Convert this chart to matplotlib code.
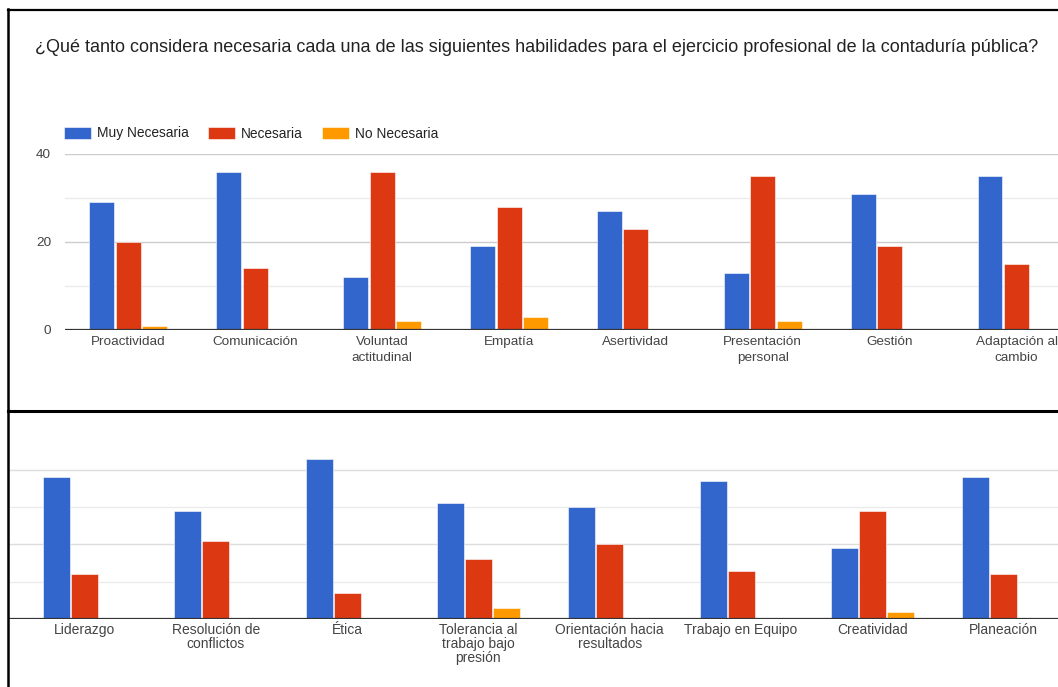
import matplotlib
matplotlib.use("Agg")
import matplotlib.pyplot as plt
import numpy as np

plt.rcParams['font.family'] = ['Liberation Sans', 'DejaVu Sans']

# top chart
cats_top = ["Proactividad", "Comunicación", "Voluntad\nactitudinal", "Empatía",
            "Asertividad", "Presentación\npersonal", "Gestión", "Adaptación al\ncambio"]
muy_top = [29, 36, 12, 19, 27, 13, 31, 35]
nec_top = [20, 14, 36, 28, 23, 35, 19, 15]
no_top = [1, 0, 2, 3, 0, 2, 0, 0]

# bottom chart
cats_bot = ["Liderazgo", "Resolución de\nconflictos", "Ética", "Tolerancia al\ntrabajo bajo\npresión",
            "Orientación hacia\nresultados", "Trabajo en Equipo", "Creatividad", "Planeación"]
muy_bot = [38, 29, 43, 31, 30, 37, 19, 38]
nec_bot = [12, 21, 7, 16, 20, 13, 29, 12]
no_bot = [0, 0, 0, 3, 0, 0, 2, 0]

series_names = ["Muy Necesaria", "Necesaria", "No Necesaria"]
colors = ["#3366CC", "#DC3912", "#FF9900"]
title = ("¿Qué tanto considera necesaria cada una de las siguientes habilidades "
         "para el ejercicio profesional de la contaduría pública?")

W, H = 1058, 687
fig = plt.figure(figsize=(W / 100, H / 100), dpi=100)


def px_axes(x0, y0, x1, y1):
    # pixel box (top-left origin) -> figure axes
    return fig.add_axes([x0 / W, 1 - y1 / H, (x1 - x0) / W, (y1 - y0) / H])


def draw_bars(ax, cats, vals, width, off):
    x = np.arange(len(cats))
    bars = []
    for i, (v, c, name) in enumerate(zip(vals, colors, series_names)):
        b = ax.bar(x + (i - 1) * off, v, width, color=c, label=name,
                   edgecolor='white', linewidth=0.4, zorder=3)
        bars.append(b)
    ax.set_xticks(x)
    ax.set_xticklabels(cats)
    for s in ax.spines.values():
        s.set_visible(False)
    ax.axhline(0, color='#333333', linewidth=1.6, zorder=4)
    ax.tick_params(axis='both', length=0, colors='#444444')
    return bars


# ---- top panel ----
ax1 = px_axes(65, 154, 1058, 330)
bars = draw_bars(ax1, cats_top, [muy_top, nec_top, no_top], 0.197, 0.209)
ax1.set_xlim(-0.5, 7.327)
ax1.set_ylim(0, 40)
ax1.set_yticks([0, 20, 40])
ax1.set_yticks([10, 30], minor=True)
ax1.tick_params(axis='y', which='both', length=0, pad=10, labelsize=9.7)
ax1.tick_params(axis='x', pad=4, labelsize=9.7)
for t in ax1.get_xticklabels():
    t.set_linespacing(1.5)
ax1.grid(axis='y', which='major', color='#cccccc', linewidth=1.0, zorder=0)
ax1.grid(axis='y', which='minor', color='#ebebeb', linewidth=1.0, zorder=0)

fig.text(35 / W, 1 - 48 / H, title, fontsize=13, color='#222222', va='center', ha='left')

leg = fig.legend(handles=bars, labels=series_names, ncol=3, frameon=False,
                 loc='center left', bbox_to_anchor=(64 / W, 1 - 133.5 / H),
                 fontsize=9.9, handlelength=1.95, handleheight=0.95,
                 handletextpad=0.45, columnspacing=1.4, borderpad=0, borderaxespad=0)
for t in leg.get_texts():
    t.set_color('#222222')
    t.set_va('baseline')

# ---- bottom panel ----
ax2 = px_axes(8, 432.5, 1058, 619)
draw_bars(ax2, cats_bot, [muy_bot, nec_bot, no_bot], 0.206, 0.213)
ax2.set_xlim(-0.583, 7.414)
ax2.set_ylim(0, 50)
ax2.set_yticks([20, 40])
ax2.set_yticks([10, 30], minor=True)
ax2.set_yticklabels([])
ax2.tick_params(axis='y', which='both', length=0)
ax2.tick_params(axis='x', pad=3, labelsize=10)
for t in ax2.get_xticklabels():
    t.set_linespacing(1.0)
ax2.grid(axis='y', which='major', color='#dddddd', linewidth=1.0, zorder=0)
ax2.grid(axis='y', which='minor', color='#ebebeb', linewidth=1.0, zorder=0)

# screenshot frames
frame = dict(color='black', transform=fig.transFigure, clip_on=False)
fig.add_artist(plt.Line2D([8 / W, 1], [1 - 9.5 / H] * 2, linewidth=1.6, **frame))
fig.add_artist(plt.Line2D([8 / W] * 2, [1 - 9 / H, 0], linewidth=1.8, **frame))
fig.add_artist(plt.Line2D([8 / W, 1], [1 - 410.5 / H] * 2, linewidth=2.2, **frame))

fig.savefig("out.png", dpi=100)
